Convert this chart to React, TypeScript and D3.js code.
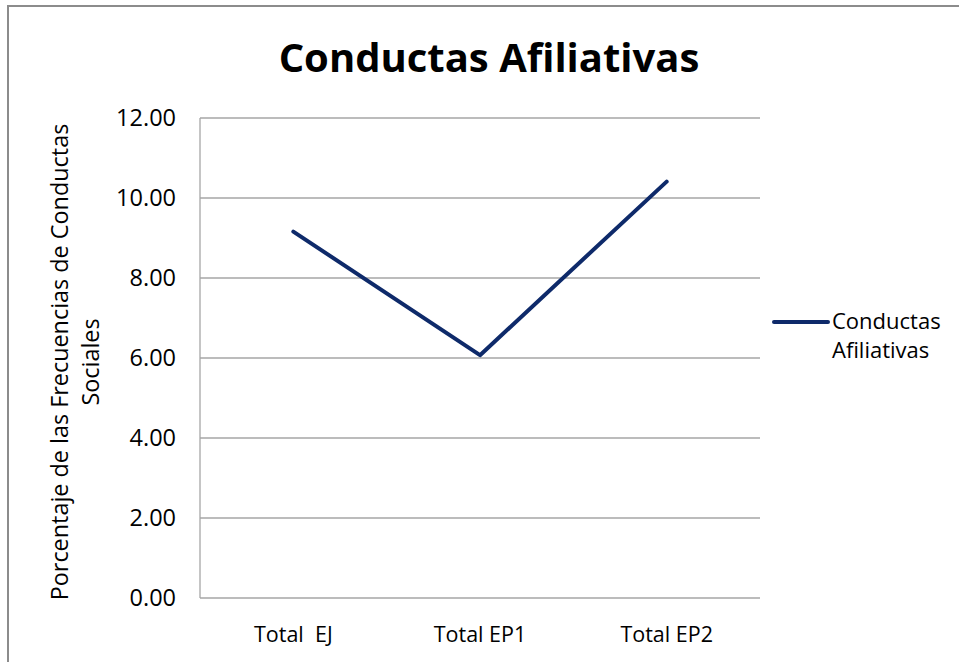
import React from "react";
import * as d3 from "d3";

const categories = ["Total  EJ", "Total EP1", "Total EP2"];
const values = [9.16, 6.07, 10.41];
const yTicks = [0, 2, 4, 6, 8, 10, 12];
const seriesName = ["Conductas", "Afiliativas"];
const title = "Conductas Afiliativas";
const yTitle = ["Porcentaje de las Frecuencias de Conductas", "Sociales"];

const W = 959, H = 662;
const plot = { left: 200, right: 760, top: 118, bottom: 598 };
const FONT = "'Open Sans', Lato, sans-serif";
const LINE = "#0e2a6a";
const GRID = "#a6a6a6";

export default function App() {
  const x = d3.scalePoint<string>().domain(categories).range([plot.left, plot.right]).padding(0.5);
  const y = d3.scaleLinear().domain([0, 12]).range([plot.bottom, plot.top]);
  const line = d3.line<number>().x((_, i) => x(categories[i]) as number).y((d) => y(d));
  const yMid = 362;
  return (
    <svg width={W} height={H} style={{ position: "absolute", left: 0, top: 0, background: "#fff" }} fontFamily={FONT}>
      <rect x={8} y={6} width={W + 10} height={H + 10} fill="#fff" stroke="#8c8c8c" strokeWidth={2} />
      <text x={489} y={72} textAnchor="middle" fontSize={40} fontWeight="bold" fill="#000">{title}</text>
      {yTicks.map((t) => (
        <g key={t}>
          <line x1={plot.left} x2={plot.right} y1={y(t)} y2={y(t)} stroke={GRID} strokeWidth={1.3} />
          <text x={176} y={y(t)} dy="0.36em" textAnchor="end" fontSize={23.5} fill="#000">{t.toFixed(2)}</text>
        </g>
      ))}
      <line x1={plot.left} x2={plot.left} y1={plot.top} y2={plot.bottom} stroke={GRID} strokeWidth={1.3} />
      {categories.map((c) => (
        <text key={c} x={x(c)} y={642} textAnchor="middle" fontSize={21.5} fill="#000" style={{ whiteSpace: "pre" }}>{c}</text>
      ))}
      <g transform={`translate(0,${yMid}) rotate(-90)`}>
        <text x={0} y={68} textAnchor="middle" fontSize={23.4} fill="#000">{yTitle[0]}</text>
        <text x={0} y={99} textAnchor="middle" fontSize={23.4} fill="#000">{yTitle[1]}</text>
      </g>
      <path d={line(values) || ""} fill="none" stroke={LINE} strokeWidth={4} strokeLinejoin="round" strokeLinecap="round" />
      <line x1={774} x2={828} y1={322} y2={322} stroke={LINE} strokeWidth={4} strokeLinecap="round" />
      <text x={832} y={329} fontSize={22} fill="#000">{seriesName[0]}</text>
      <text x={832} y={358} fontSize={22} fill="#000">{seriesName[1]}</text>
    </svg>
  );
}
